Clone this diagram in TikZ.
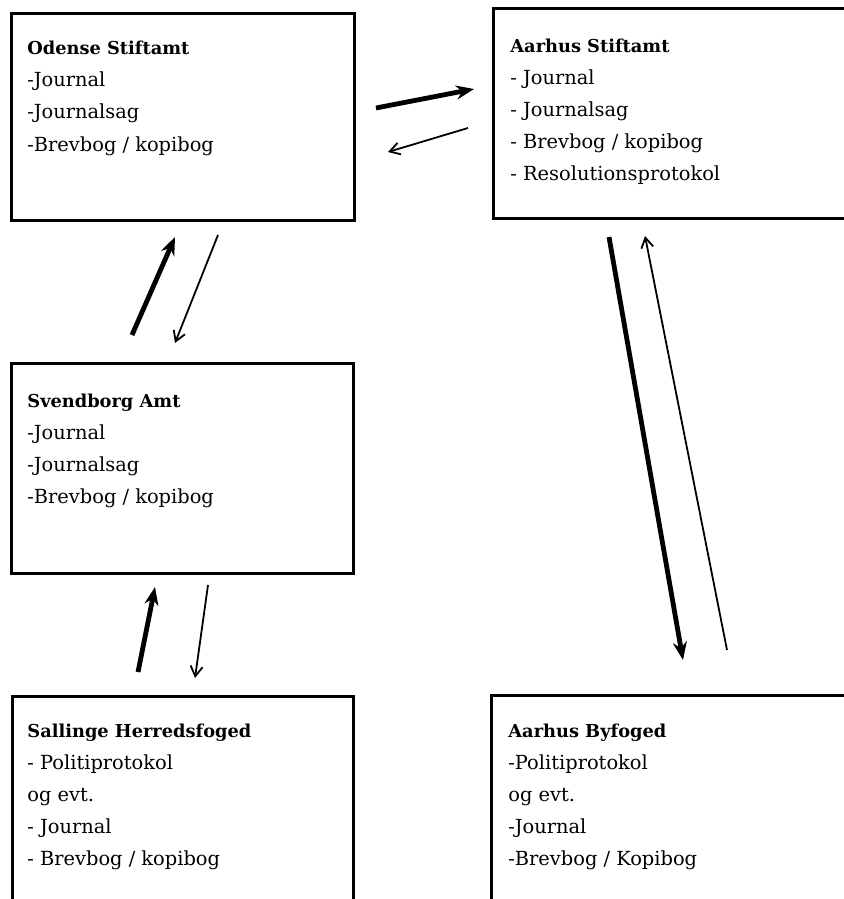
\documentclass[tikz,border=0pt]{standalone}
\usepackage{fontspec}
\setmainfont{DejaVu Serif}
\usetikzlibrary{arrows.meta}

\newcommand{\office}[1]{{\fontsize{8.9}{16}\selectfont\bfseries #1}}

\tikzset{
  box/.style={draw, line width=1.5pt, anchor=north west, inner sep=0},
  txt/.style={anchor=base west, inner sep=0, font=\fontsize{9.7}{16}\selectfont},
  heavy/.style={line width=2.4pt, -{Stealth[length=9pt,width=7pt]}},
  light/.style={line width=0.9pt, -{Straight Barb[length=5pt,width=6pt]}},
}

\begin{document}
\begin{tikzpicture}[x=0.5pt,y=-0.5pt]
    \clip (0,0) rectangle (844,899);
    \fill[white] (0,0) rectangle (844,899);

    % the five offices
    \node[box, minimum width=171.5pt, minimum height=103.5pt] (ode) at (10,12) {};
    \node[box, minimum width=180pt, minimum height=105pt] (aas) at (492,7) {};
    \node[box, minimum width=171pt, minimum height=105pt] (sve) at (10,362) {};
    \node[box, minimum width=170.5pt, minimum height=115pt] (sal) at (11,695) {};
    \node[box, minimum width=180pt, minimum height=115pt] (aby) at (490,694) {};

    \node[txt] (odetxt) at (27,55) {%
      \begin{tabular}[t]{@{}l@{}}
      \office{Odense Stiftamt}\\
      -Journal\\
      -Journalsag\\
      -Brevbog / kopibog\\
      \end{tabular}%
    };
    \node[txt] (aastxt) at (510,53) {%
      \begin{tabular}[t]{@{}l@{}}
      \office{Aarhus Stiftamt}\\
      - Journal\\
      - Journalsag\\
      - Brevbog / kopibog\\
      - Resolutionsprotokol\\
      \end{tabular}%
    };
    \node[txt] (svetxt) at (27,407) {%
      \begin{tabular}[t]{@{}l@{}}
      \office{Svendborg Amt}\\
      -Journal\\
      -Journalsag\\
      -Brevbog / kopibog\\
      \end{tabular}%
    };
    \node[txt] (saltxt) at (27,737) {%
      \begin{tabular}[t]{@{}l@{}}
      \office{Sallinge Herredsfoged}\\
      - Politiprotokol\\
      og evt.\\
      - Journal\\
      - Brevbog / kopibog\\
      \end{tabular}%
    };
    \node[txt] (abytxt) at (508,737) {%
      \begin{tabular}[t]{@{}l@{}}
      \office{Aarhus Byfoged}\\
      -Politiprotokol\\
      og evt.\\
      -Journal\\
      -Brevbog / Kopibog\\
      \end{tabular}%
    };

    % arrow ends
    \coordinate (odeout) at (376,108);
    \coordinate (aasin)  at (474,89);
    \coordinate (aasout) at (468,128);
    \coordinate (odein)  at (388,152);
    \coordinate (sveup)  at (132,335);
    \coordinate (odetop) at (175,237);
    \coordinate (odedn)  at (218,235);
    \coordinate (svebot) at (175,343);
    \coordinate (aasdn)  at (609,237);
    \coordinate (abyin)  at (683,660);
    \coordinate (abyout) at (727,650);
    \coordinate (aasup)  at (645,236);
    \coordinate (salup)  at (138,672);
    \coordinate (svein)  at (155,587);
    \coordinate (svedn)  at (208,585);
    \coordinate (salin)  at (195,678);

    \draw[heavy] (odeout) -- (aasin);
    \draw[light] (aasout) -- (odein);
    \draw[heavy] (sveup) -- (odetop);
    \draw[light] (odedn) -- (svebot);
    \draw[heavy] (aasdn) -- (abyin);
    \draw[light] (abyout) -- (aasup);
    \draw[heavy] (salup) -- (svein);
    \draw[light] (svedn) -- (salin);
\end{tikzpicture}
\end{document}
